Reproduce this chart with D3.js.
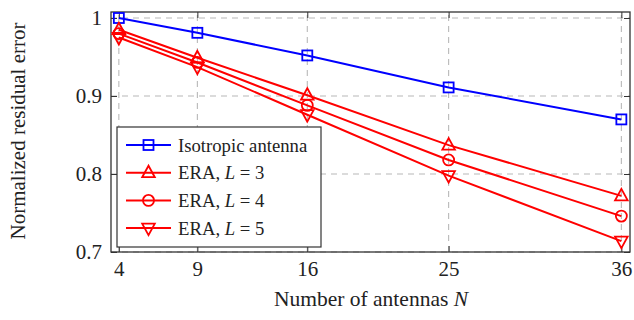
<!DOCTYPE html>
<html>
<head>
<meta charset="utf-8">
<script src="https://cdn.jsdelivr.net/npm/d3@7"></script>
<style>
  body { margin: 0; background: #fff; }
  text { font-family: "Liberation Serif", "DejaVu Serif", serif; }
</style>
</head>
<body>
<div id="chart"></div>
<script>
// Number of antennas N
const antennas = [4, 9, 16, 25, 36];
const isotropic = [1.0, 0.981, 0.952, 0.911, 0.870];
const eraL3 = [0.985, 0.949, 0.901, 0.837, 0.772];
const eraL4 = [0.980, 0.943, 0.888, 0.818, 0.746];
const eraL5 = [0.975, 0.937, 0.876, 0.798, 0.714];
const yTicks = [0.7, 0.8, 0.9, 1];
const seriesNames = ["Isotropic antenna", "ERA, L = 3", "ERA, L = 4", "ERA, L = 5"];

const width = 634;
const height = 320;
const margin = { top: 12, right: 4, bottom: 68, left: 111 };

const series = [
  { name: seriesNames[0], values: isotropic, color: "#0000ff", mark: "square" },
  { name: seriesNames[1], values: eraL3, color: "#ff0000", mark: "up" },
  { name: seriesNames[2], values: eraL4, color: "#ff0000", mark: "circle" },
  { name: seriesNames[3], values: eraL5, color: "#ff0000", mark: "down" }
];

const x = d3.scaleLinear().domain([3.5, 36.55]).range([margin.left, width - margin.right]);
const y = d3.scaleLinear().domain([0.7, 1.0077]).range([height - margin.bottom, margin.top]);

const svg = d3.select("#chart").append("svg")
  .attr("width", width)
  .attr("height", height)
  .attr("viewBox", [0, 0, width, height]);

const x0 = margin.left, x1 = width - margin.right;
const y0 = height - margin.bottom, y1 = margin.top;

// grid
svg.append("g")
  .selectAll("line")
  .data(antennas)
  .join("line")
  .attr("x1", d => x(d)).attr("x2", d => x(d))
  .attr("y1", y0).attr("y2", y1)
  .attr("stroke", "#b8b8b8").attr("stroke-width", 1.1)
  .attr("stroke-dasharray", "6,5");

svg.append("g")
  .selectAll("line")
  .data(yTicks)
  .join("line")
  .attr("x1", x0).attr("x2", x1)
  .attr("y1", d => y(d)).attr("y2", d => y(d))
  .attr("stroke", "#b8b8b8").attr("stroke-width", 1.1)
  .attr("stroke-dasharray", "6,5");

// axes (ticks inward on all sides)
const xAxis = d3.axisBottom(x).tickValues(antennas).tickSize(-6).tickPadding(9).tickSizeOuter(0);
const yAxis = d3.axisLeft(y).tickValues(yTicks).tickFormat(d => d === 1 ? "1" : d3.format(".1f")(d))
  .tickSize(-6).tickPadding(9).tickSizeOuter(0);

const gx = svg.append("g").attr("transform", `translate(0,${y0})`).call(xAxis);
const gy = svg.append("g").attr("transform", `translate(${x0},0)`).call(yAxis);
svg.append("g").attr("transform", `translate(0,${y1})`)
  .call(d3.axisTop(x).tickValues(antennas).tickSize(-6).tickFormat("").tickSizeOuter(0));
svg.append("g").attr("transform", `translate(${x1},0)`)
  .call(d3.axisRight(y).tickValues(yTicks).tickSize(-6).tickFormat("").tickSizeOuter(0));

svg.selectAll(".domain").remove();
svg.selectAll(".tick line").attr("stroke", "#333").attr("stroke-width", 1);
gx.selectAll("text").attr("font-size", 21).attr("fill", "#222").attr("dy", "0.72em");
gy.selectAll("text").attr("font-size", 21).attr("fill", "#222");

// frame
svg.append("rect")
  .attr("x", x0).attr("y", y1)
  .attr("width", x1 - x0).attr("height", y0 - y1)
  .attr("fill", "none").attr("stroke", "#333").attr("stroke-width", 1.3);

// markers
function drawMark(g, type, cx, cy, color) {
  if (type === "square") {
    g.append("rect").attr("x", cx - 5).attr("y", cy - 5).attr("width", 10).attr("height", 10)
      .attr("fill", "none").attr("stroke", color).attr("stroke-width", 1.8);
  } else if (type === "circle") {
    g.append("circle").attr("cx", cx).attr("cy", cy).attr("r", 5.5)
      .attr("fill", "none").attr("stroke", color).attr("stroke-width", 1.8);
  } else {
    const s = type === "up" ? 1 : -1;
    const pts = [[cx, cy - 7 * s], [cx - 6.3, cy + 4.5 * s], [cx + 6.3, cy + 4.5 * s]];
    g.append("path").attr("d", "M" + pts.join("L") + "Z")
      .attr("fill", "none").attr("stroke", color).attr("stroke-width", 1.8);
  }
}

const line = d3.line().x(d => x(d[0])).y(d => y(d[1]));

series.forEach(s => {
  const pts = antennas.map((n, i) => [n, s.values[i]]);
  const g = svg.append("g");
  g.append("path").attr("d", line(pts))
    .attr("fill", "none").attr("stroke", s.color).attr("stroke-width", 2);
  pts.forEach(p => drawMark(g, s.mark, x(p[0]), y(p[1]), s.color));
});

// legend
const leg = svg.append("g");
leg.append("rect")
  .attr("x", 117).attr("y", 127).attr("width", 204).attr("height", 120)
  .attr("fill", "#fff").attr("stroke", "#333").attr("stroke-width", 1.2);

series.forEach((s, i) => {
  const ly = 145 + i * 27.7;
  leg.append("line").attr("x1", 126).attr("x2", 171).attr("y1", ly).attr("y2", ly)
    .attr("stroke", s.color).attr("stroke-width", 2);
  drawMark(leg, s.mark, 148.5, ly, s.color);
  const t = leg.append("text").attr("x", 178).attr("y", ly).attr("dy", "0.35em")
    .attr("font-size", 18.7).attr("fill", "#222");
  if (i === 0) {
    t.text(s.name);
  } else {
    const parts = s.name.split("L");
    t.append("tspan").text(parts[0]);
    t.append("tspan").attr("font-style", "italic").text("L");
    t.append("tspan").text(parts[1]);
  }
});

// axis labels
const xl = svg.append("text")
  .attr("x", 371).attr("y", 306).attr("text-anchor", "middle")
  .attr("font-size", 21.5).attr("fill", "#222");
xl.append("tspan").text("Number of antennas ");
xl.append("tspan").attr("font-style", "italic").text("N");

svg.append("text")
  .attr("transform", "translate(25,131) rotate(-90)")
  .attr("text-anchor", "middle")
  .attr("font-size", 21).attr("fill", "#222")
  .text("Normalized residual error");
</script>
</body>
</html>
